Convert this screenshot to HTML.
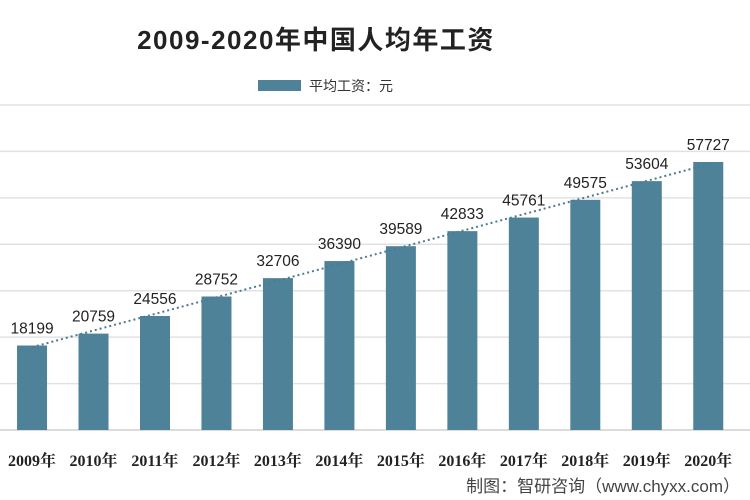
<!DOCTYPE html>
<html><head><meta charset="utf-8"><style>
body{margin:0;background:#fff}
svg{display:block;font-family:"Liberation Sans","Noto Sans CJK SC",sans-serif}
</style></head><body>
<svg id="c" width="750" height="500">
<text x="316" y="49" text-anchor="middle" font-size="26" font-weight="bold" letter-spacing="1.5" fill="#222">2009-2020年中国人均年工资</text>
<rect x="258" y="80" width="43" height="11" fill="#4d8299"/>
<text x="309" y="91" font-size="14" fill="#333">平均工资：元</text>
<text x="740" y="492" text-anchor="end" font-size="17" fill="#444">制图：智研咨询（www.chyxx.com）</text>
</svg>
<script>
const categories=["2009年","2010年","2011年","2012年","2013年","2014年","2015年","2016年","2017年","2018年","2019年","2020年"];
const values=[18199,20759,24556,28752,32706,36390,39589,42833,45761,49575,53604,57727];
const yTicks=[0,10000,20000,30000,40000,50000,60000,70000];
const NS="http://www.w3.org/2000/svg",svgEl=document.getElementById('c');
const plotL=1.3,plotR=739,base=430,plotT=105,maxV=70000;
const bw=(plotR-plotL)/categories.length;
const xs=i=>plotL+bw*(i+0.5);
const ys=v=>base-(v/maxV)*(base-plotT);
function mk(t,a){const e=document.createElementNS(NS,t);for(const k in a)e.setAttribute(k,a[k]);svgEl.insertBefore(e,svgEl.firstChild);return e;}
function add(t,a){const e=document.createElementNS(NS,t);for(const k in a)e.setAttribute(k,a[k]);svgEl.appendChild(e);return e;}
yTicks.forEach(v=>{const g=mk('line',{x1:0,x2:750,y1:ys(v),y2:ys(v),stroke:v===0?'#d0d0d0':'#e2e2e2','stroke-width':1.5});

});
values.forEach((v,i)=>{
const r=add('rect',{x:xs(i)-15,y:ys(v),width:30,height:base-ys(v),fill:'#4d8299'});


const t=add('text',{x:xs(i),y:ys(v)-12,'text-anchor':'middle','font-size':15.5,fill:'#222'});t.textContent=v;


const c=add('text',{x:xs(i),y:466,'text-anchor':'middle','font-size':16,'font-weight':'bold',fill:'#222','font-family':'"Liberation Serif","Noto Serif CJK SC",serif'});c.textContent=categories[i];


});
const n=values.length;let sx=0,sy=0,sxy=0,sxx=0;values.forEach((v,i)=>{sx+=i;sy+=v;sxy+=i*v;sxx+=i*i;});
const m=(n*sxy-sx*sy)/(n*sxx-sx*sx),b=(sy-m*sx)/n;
const tl=add('line',{x1:xs(0),y1:ys(b),x2:xs(n-1),y2:ys(b+m*(n-1)),stroke:'#4f7a90','stroke-width':2,'stroke-dasharray':'2 3'});


</script>
</body></html>
